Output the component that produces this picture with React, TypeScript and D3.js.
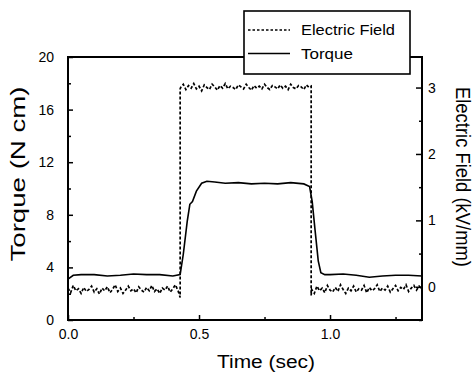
import { useEffect, useRef } from 'react';
import * as d3 from 'd3';

// torque trace, [time (s), torque (N cm)]
const torquePoints: [number, number][] = [
  [0.0, 3.1], [0.02, 3.4], [0.05, 3.45], [0.1, 3.45], [0.15, 3.35], [0.2, 3.4],
  [0.25, 3.5], [0.3, 3.45], [0.35, 3.45], [0.4, 3.35], [0.428, 3.45], [0.44, 5.0],
  [0.455, 7.5], [0.465, 8.8], [0.475, 9.0], [0.49, 9.8], [0.51, 10.4], [0.53, 10.55],
  [0.56, 10.5], [0.6, 10.4], [0.65, 10.45], [0.7, 10.35], [0.75, 10.4], [0.8, 10.35],
  [0.85, 10.45], [0.9, 10.35], [0.922, 10.15], [0.932, 9.0], [0.942, 7.0], [0.955, 4.5],
  [0.965, 3.6], [0.98, 3.45], [1.0, 3.45], [1.05, 3.5], [1.1, 3.4], [1.15, 3.25],
  [1.2, 3.35], [1.25, 3.4], [1.3, 3.4], [1.351, 3.35],
];

// electric field trace, [time (s), field (kV/mm)]
const fieldPoints: [number, number][] = [
  [0.0, -0.02], [0.01, -0.09], [0.02, 0.02], [0.03, -0.06], [0.04, -0.03], [0.05, -0.1],
  [0.06, -0.01], [0.07, -0.07], [0.08, -0.04], [0.09, 0.01], [0.1, -0.08], [0.11, -0.03],
  [0.12, -0.11], [0.13, -0.02], [0.14, -0.06], [0.15, 0.0], [0.16, -0.09], [0.17, -0.04],
  [0.18, 0.03], [0.19, -0.07], [0.2, -0.02], [0.21, -0.1], [0.22, -0.05], [0.23, 0.01],
  [0.24, -0.06], [0.25, -0.03], [0.26, -0.09], [0.27, 0.0], [0.28, -0.05], [0.29, -0.08],
  [0.3, -0.01], [0.31, -0.06], [0.32, 0.02], [0.33, -0.07], [0.34, -0.03], [0.35, -0.1],
  [0.36, -0.02], [0.37, -0.05], [0.38, 0.01], [0.39, -0.08], [0.4, -0.03], [0.41, 0.03],
  [0.42, -0.06], [0.428, -0.16], [0.428, 2.98],
  [0.43, 3.0], [0.44, 3.05], [0.45, 2.97], [0.46, 3.03], [0.47, 2.99], [0.48, 3.06],
  [0.49, 2.98], [0.5, 3.02], [0.51, 2.95], [0.52, 3.04], [0.53, 3.0], [0.54, 2.97],
  [0.55, 3.05], [0.56, 3.01], [0.57, 2.96], [0.58, 3.03], [0.59, 2.99], [0.6, 3.06],
  [0.61, 2.98], [0.62, 3.02], [0.63, 3.0], [0.64, 2.97], [0.65, 3.04], [0.66, 3.01],
  [0.67, 2.98], [0.68, 3.05], [0.69, 3.0], [0.7, 2.96], [0.71, 3.03], [0.72, 2.99],
  [0.73, 3.02], [0.74, 2.98], [0.75, 3.05], [0.76, 3.0], [0.77, 2.97], [0.78, 3.03],
  [0.79, 3.01], [0.8, 2.98], [0.81, 3.04], [0.82, 2.99], [0.83, 3.02], [0.84, 2.97],
  [0.85, 3.05], [0.86, 3.0], [0.87, 2.98], [0.88, 3.03], [0.89, 3.01], [0.9, 2.97],
  [0.91, 3.04], [0.92, 3.0], [0.928, 3.02], [0.928, -0.13],
  [0.93, -0.04], [0.94, -0.1], [0.95, 0.01], [0.96, -0.06], [0.97, -0.02], [0.98, -0.09],
  [0.99, 0.02], [1.0, -0.05], [1.01, -0.08], [1.02, -0.01], [1.03, -0.07], [1.04, 0.03],
  [1.05, -0.04], [1.06, -0.1], [1.07, -0.02], [1.08, -0.06], [1.09, 0.01], [1.1, -0.08],
  [1.11, -0.03], [1.12, -0.05], [1.13, 0.02], [1.14, -0.09], [1.15, -0.01], [1.16, -0.06],
  [1.17, -0.03], [1.18, 0.03], [1.19, -0.07], [1.2, -0.02], [1.21, -0.05], [1.22, 0.01],
  [1.23, -0.08], [1.24, -0.03], [1.25, 0.02], [1.26, -0.06], [1.27, -0.01], [1.28, -0.04],
  [1.29, 0.03], [1.3, -0.07], [1.31, -0.02], [1.32, 0.02], [1.33, -0.05], [1.34, 0.01],
  [1.35, -0.03],
];

const timeTicks = [0, 0.5, 1.0];
const timeMinorTicks = [0.25, 0.75, 1.25];
const torqueTicks = [0, 4, 8, 12, 16, 20];
const torqueMinorTicks = [2, 6, 10, 14, 18];
const fieldTicks = [0, 1, 2, 3];
const fieldMinorTicks = [-0.5, 0.5, 1.5, 2.5];

const legendItems = [
  { label: 'Electric Field', dashed: true },
  { label: 'Torque', dashed: false },
];

const FONT = '"Liberation Sans", Arial, sans-serif';

export default function App() {
  const axesRef = useRef<SVGGElement>(null);

  const left = 68, right = 422, top = 57, bottom = 320;
  const x = d3.scaleLinear().domain([0, 1.351]).range([left, right]);
  const yTorque = d3.scaleLinear().domain([0, 20]).range([bottom, top]);
  const yField = d3.scaleLinear().domain([-0.5, 3.46]).range([bottom, top]);

  const torqueLine = d3.line<[number, number]>()
    .x(d => x(d[0]))
    .y(d => yTorque(d[1]));
  const fieldLine = d3.line<[number, number]>()
    .x(d => x(d[0]))
    .y(d => yField(d[1]));

  useEffect(() => {
    const g = d3.select(axesRef.current);
    g.selectAll('*').remove();

    // left axis (ticks point inward)
    g.append('g').attr('transform', `translate(${left},0)`)
      .call(d3.axisLeft(yTorque).tickValues(torqueTicks).tickSize(-5).tickPadding(14).tickFormat(d3.format('d')));
    g.append('g').attr('transform', `translate(${left},0)`)
      .call(d3.axisLeft(yTorque).tickValues(torqueMinorTicks).tickSize(-3).tickFormat(() => ''));

    // right axis
    g.append('g').attr('transform', `translate(${right},0)`)
      .call(d3.axisRight(yField).tickValues(fieldTicks).tickSize(-6).tickPadding(6).tickFormat(d3.format('d')));
    g.append('g').attr('transform', `translate(${right},0)`)
      .call(d3.axisRight(yField).tickValues(fieldMinorTicks).tickSize(-3).tickFormat(() => ''));

    // bottom axis
    g.append('g').attr('transform', `translate(0,${bottom})`)
      .call(d3.axisBottom(x).tickValues(timeTicks).tickSize(-5).tickPadding(9).tickFormat(d3.format('.1f')));
    g.append('g').attr('transform', `translate(0,${bottom})`)
      .call(d3.axisBottom(x).tickValues(timeMinorTicks).tickSize(-3).tickFormat(() => ''));

    g.selectAll('.domain').remove();
    g.selectAll('.tick line').attr('stroke', '#000').attr('stroke-width', 1.5);
    g.selectAll('.tick text')
      .attr('fill', '#000')
      .style('font-family', FONT)
      .style('font-size', '14px');
  }, []);

  return (
    <svg width={476} height={378} style={{ position: 'absolute', left: 0, top: 0, background: '#fff' }}>
      <rect x={0} y={0} width={476} height={378} fill="#fff" />

      <path d={fieldLine(fieldPoints) ?? ''} fill="none" stroke="#000" strokeWidth={1.7} strokeDasharray="3,2" />
      <path d={torqueLine(torquePoints) ?? ''} fill="none" stroke="#000" strokeWidth={1.6} />

      <g ref={axesRef} />
      <rect x={left} y={top} width={right - left} height={bottom - top} fill="none" stroke="#000" strokeWidth={2} />

      {/* legend */}
      <rect x={244} y={11} width={166} height={63} fill="#fff" stroke="#000" strokeWidth={1.6} />
      {legendItems.map((item, i) => (
        <g key={item.label} transform={`translate(0,${30 + i * 23.5})`}>
          <line x1={248} x2={290} y1={0} y2={0} stroke="#000" strokeWidth={1.4}
            strokeDasharray={item.dashed ? '2.5,2' : undefined} />
          <text x={301} y={5} fontFamily={FONT} fontSize={15}
            textLength={item.dashed ? 94 : 52} lengthAdjust="spacingAndGlyphs">{item.label}</text>
        </g>
      ))}

      {/* axis titles */}
      <text x={266} y={368} textAnchor="middle" fontFamily={FONT} fontSize={18}
        textLength={98} lengthAdjust="spacingAndGlyphs">Time (sec)</text>
      <text transform="translate(25,174) rotate(-90)" textAnchor="middle" fontFamily={FONT} fontSize={20}
        textLength={175} lengthAdjust="spacingAndGlyphs">Torque (N cm)</text>
      <text transform="translate(456,177) rotate(90)" textAnchor="middle" fontFamily={FONT} fontSize={20}
        textLength={180} lengthAdjust="spacingAndGlyphs">Electric Field (kV/mm)</text>
    </svg>
  );
}
